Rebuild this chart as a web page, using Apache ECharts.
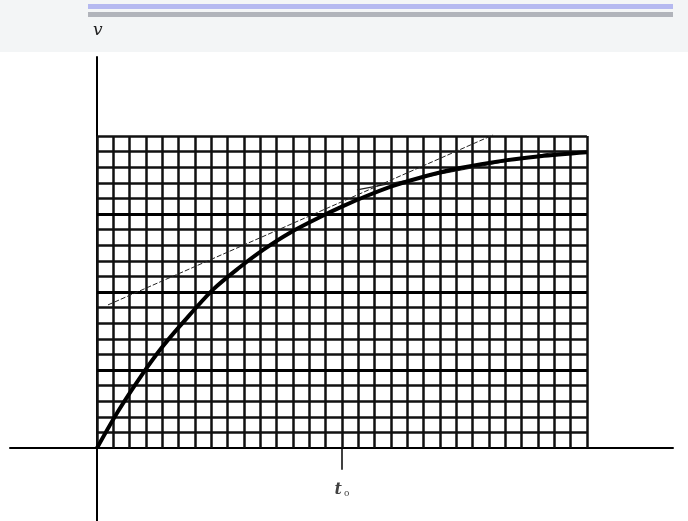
<!DOCTYPE html>
<html>
<head>
<meta charset="utf-8">
<script src="https://cdn.jsdelivr.net/npm/echarts@6/dist/echarts.min.js"></script>
<style>
  html, body { margin: 0; padding: 0; background: #fff; }
  #main { width: 688px; height: 521px; }
</style>
</head>
<body>
<div id="main"></div>
<script>
var chartDom = document.getElementById('main');
var myChart = echarts.init(chartDom);
var option;

// graph paper: 30 columns x 20 rows, every 5th row heavier
var gridCols = 30;
var gridRows = 20;
var heavyRows = [5, 10, 15];

// measured curve v(t), in grid cells
var curveT = [0, 1.29, 2.76, 3.98, 5.27, 7.1, 8.76, 10.17, 11.82, 13.66, 15.06, 16.5, 18.13, 20.21, 22.23, 25.11, 27.13, 30];
var curveV = [0, 2.35, 4.7, 6.45, 8.05, 10.15, 11.6, 12.7, 13.8, 14.8, 15.5, 16.15, 16.8, 17.45, 17.95, 18.45, 18.7, 18.95];

// tangent at t0 and the second thin line
var tangentT = [0.67, 24.25];
var tangentV = [9.17, 20.06];
var chordT = [15.92, 28.05];
var chordV = [16.54, 18.97];

var t0 = 15;
var tickLen = 1.4;

function pairs(xs, ys) {
  return xs.map(function (x, i) { return [x, ys[i]]; });
}

var thinLines = [];
var heavyLines = [];
for (var c = 0; c <= gridCols; c++) {
  thinLines.push({ coords: [[c, 0], [c, gridRows]] });
}
for (var r = 1; r <= gridRows; r++) {
  var seg = { coords: [[0, r], [gridCols, r]] };
  if (heavyRows.indexOf(r) >= 0) heavyLines.push(seg);
  else thinLines.push(seg);
}

option = {
  animation: false,
  backgroundColor: '#fff',
  graphic: [
    { type: 'rect', left: 0, top: 0, z: -10, shape: { width: 688, height: 52 }, style: { fill: '#f3f5f6' } },
    { type: 'rect', left: 88, top: 4, shape: { width: 585, height: 5 }, style: { fill: '#b5b9f0' } },
    { type: 'rect', left: 88, top: 12, shape: { width: 585, height: 5 }, style: { fill: '#b1b4bb' } }
  ],
  grid: { left: 10, right: 15, top: 57, bottom: 0 },
  xAxis: {
    type: 'value',
    min: -5.33,
    max: 35.27,
    axisLine: { show: true, lineStyle: { color: '#000', width: 2 } },
    axisTick: { show: false },
    axisLabel: { show: false },
    splitLine: { show: false }
  },
  yAxis: {
    type: 'value',
    min: -4.68,
    max: 25.06,
    name: 'v',
    nameLocation: 'end',
    nameGap: 18,
    nameTextStyle: { fontFamily: 'DejaVu Serif', fontStyle: 'italic', fontSize: 17, color: '#222', align: 'left', padding: [0, 0, 0, -4] },
    axisLine: { show: true, lineStyle: { color: '#000', width: 2 } },
    axisTick: { show: false },
    axisLabel: { show: false },
    splitLine: { show: false }
  },
  series: [
    {
      type: 'lines',
      coordinateSystem: 'cartesian2d',
      silent: true,
      lineStyle: { color: '#111', width: 2.5, opacity: 1 },
      data: thinLines
    },
    {
      type: 'lines',
      coordinateSystem: 'cartesian2d',
      silent: true,
      lineStyle: { color: '#000', width: 3.2, opacity: 1 },
      data: heavyLines
    },
    {
      type: 'lines',
      coordinateSystem: 'cartesian2d',
      silent: true,
      lineStyle: { color: '#000', width: 1.5, opacity: 1 },
      data: [{ coords: [[t0, 0], [t0, -tickLen]] }]
    },
    {
      type: 'line',
      name: 'tangent',
      data: pairs(tangentT, tangentV),
      symbol: 'none',
      z: 5,
      lineStyle: { color: '#222', width: 1, type: [5, 2] }
    },
    {
      type: 'line',
      name: 'chord',
      data: pairs(chordT, chordV),
      symbol: 'none',
      z: 5,
      lineStyle: { color: '#222', width: 1.2 }
    },
    {
      type: 'line',
      name: 'v(t)',
      data: pairs(curveT, curveV),
      smooth: 0.3,
      symbol: 'none',
      z: 6,
      lineStyle: { color: '#000', width: 4 }
    },
    {
      type: 'scatter',
      data: [[t0, -2.7]],
      symbolSize: 0,
      silent: true,
      label: {
        show: true,
        position: 'inside',
        formatter: '{a|t}{b|o}',
        rich: {
          a: { fontFamily: 'DejaVu Serif', fontStyle: 'italic', fontWeight: 'bold', fontSize: 16, color: '#111' },
          b: { fontFamily: 'DejaVu Serif', fontSize: 9, color: '#111', padding: [8, 0, 0, 2] }
        }
      }
    }
  ]
};

option && myChart.setOption(option);
</script>
</body>
</html>
